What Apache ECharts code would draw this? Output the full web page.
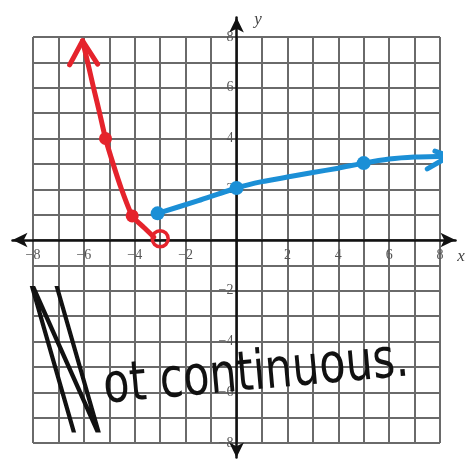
<!DOCTYPE html>
<html>
<head>
<meta charset="utf-8">
<script src="https://cdn.jsdelivr.net/npm/echarts@6/dist/echarts.min.js"></script>
<style>
html,body{margin:0;padding:0;background:#fff;}
#chart{width:469px;height:467px;}
</style>
</head>
<body>
<div id="chart"></div>
<script>
// ---- data ----
const xTickLabels = [-8, -6, -4, -2, 2, 4, 6, 8];
const yTickLabels = [-8, -6, -4, -2, 2, 4, 6, 8];

const redCurve = [[-6.05, 7.85], [-5.85, 7.0], [-5.62, 6.0], [-5.38, 5.0], [-5.15, 4.0], [-4.85, 3.0], [-4.52, 2.0], [-4.1, 0.95], [-3.65, 0.5], [-3.25, 0.12]];
const redArrow = [[-6.56, 6.9], [-6.05, 7.85], [-5.46, 6.93]];
const redDots = [[-5.15, 4.0], [-4.1, 0.95]];
const redOpen = [[-3.0, 0.05]];

const blueCurve = [[-3.1, 1.05], [-1.5, 1.55], [0, 2.05], [1, 2.3], [2, 2.48], [3, 2.66], [4, 2.83], [5, 3.03], [6, 3.19], [7, 3.27], [8.37, 3.31]];
const blueArrow = [[7.8, 3.5], [8.37, 3.31], [7.5, 2.8]];
const blueDots = [[-3.1, 1.05], [0, 2.05], [5, 3.03]];

const RED = '#e5232c';
const BLUE = '#1b8fd6';

const chart = echarts.init(document.getElementById('chart'));
const xFmt = v => (xTickLabels.indexOf(v) < 0) ? '' : String(v).replace('-', '\u2212');
const yFmt = v => (yTickLabels.indexOf(v) < 0) ? '' : String(v).replace('-', '\u2212');
const labelFont = { color: '#555', fontFamily: 'Liberation Serif', fontSize: 14 };

function lineSeries(data, color, width, smooth) {
  return {
    type: 'line', xAxisIndex: 0, yAxisIndex: 0, data: data,
    showSymbol: false, symbol: 'none', clip: false, smooth: smooth, z: 5,
    lineStyle: { color: color, width: width, cap: 'round', join: 'round' },
    silent: true, animation: false
  };
}
const hiddenAxis = (g) => ({ gridIndex: g, type: 'value', min: -8, max: 8, show: false });

chart.setOption({
  animation: false,
  grid: [
    { left: 33, right: 29, top: 37, bottom: 24, outerBoundsMode: 'none', containLabel: false },
    { left: 12.5, right: 13.5, top: 17.5, bottom: 9.5, outerBoundsMode: 'none', containLabel: false },
    { left: 33, right: 29, top: 100, bottom: 227, outerBoundsMode: 'none', containLabel: false },
    { left: 236.5, right: 100, top: 37, bottom: 24, outerBoundsMode: 'none', containLabel: false }
  ],
  xAxis: [
    { gridIndex: 0, type: 'value', min: -8, max: 8, interval: 1,
      axisLine: { show: false }, axisTick: { show: false }, axisLabel: { show: false },
      splitLine: { show: true, lineStyle: { color: '#6a6a6a', width: 2 } } },
    { gridIndex: 1, type: 'value', min: -8.8, max: 8.6,
      splitLine: { show: false }, axisTick: { show: false }, axisLabel: { show: false },
      axisLine: { show: true, onZero: true, symbol: ['arrow', 'arrow'], symbolSize: [11, 15],
        lineStyle: { color: '#111', width: 2.5 } } },
    { gridIndex: 2, type: 'value', min: -8, max: 8, interval: 2, position: 'bottom',
      axisLine: { show: false, onZero: false }, axisTick: { show: false }, splitLine: { show: false },
      axisLabel: Object.assign({ show: true, formatter: xFmt, margin: 8, showMinLabel: true, showMaxLabel: true }, labelFont) },
    hiddenAxis(3)
  ],
  yAxis: [
    { gridIndex: 0, type: 'value', min: -8, max: 8, interval: 1,
      axisLine: { show: false }, axisTick: { show: false }, axisLabel: { show: false },
      splitLine: { show: true, lineStyle: { color: '#6a6a6a', width: 2 } } },
    { gridIndex: 1, type: 'value', min: -8.57, max: 8.77,
      splitLine: { show: false }, axisTick: { show: false }, axisLabel: { show: false },
      axisLine: { show: true, onZero: true, symbol: ['arrow', 'arrow'], symbolSize: [11, 15],
        lineStyle: { color: '#111', width: 2.5 } } },
    hiddenAxis(2),
    { gridIndex: 3, type: 'value', min: -8, max: 8, interval: 2, position: 'left',
      axisLine: { show: false, onZero: false }, axisTick: { show: false }, splitLine: { show: false },
      axisLabel: Object.assign({ show: true, formatter: yFmt, margin: 3, showMinLabel: true, showMaxLabel: true }, labelFont) }
  ],
  series: [
    lineSeries(redCurve, RED, 5, 0.2),
    lineSeries(redArrow, RED, 5, false),
    lineSeries(blueCurve, BLUE, 5, 0.2),
    lineSeries(blueArrow, BLUE, 5, false),
    { type: 'scatter', xAxisIndex: 0, yAxisIndex: 0, data: redDots, symbolSize: 13, clip: false, z: 6,
      itemStyle: { color: RED, opacity: 1 } },
    { type: 'scatter', xAxisIndex: 0, yAxisIndex: 0, data: redOpen, symbolSize: 16, clip: false, z: 6,
      itemStyle: { color: 'rgba(0,0,0,0)', borderColor: RED, borderWidth: 3.5, opacity: 1 } },
    { type: 'scatter', xAxisIndex: 0, yAxisIndex: 0, data: blueDots, symbolSize: 14, clip: false, z: 6,
      itemStyle: { color: BLUE, opacity: 1 } }
  ],
  graphic: [
    { type: 'text', x: 258, y: 20, z: 10,
      style: { text: 'y', font: 'italic 17px "Liberation Serif"', fill: '#444', align: 'center', verticalAlign: 'middle' } },
    { type: 'text', x: 461, y: 257, z: 10,
      style: { text: 'x', font: 'italic 17px "Liberation Serif"', fill: '#444', align: 'center', verticalAlign: 'middle' } },
    { type: 'text', x: 72, y: 380, z: 20, scaleX: 0.3, skewX: 0.28,
      style: { text: 'N', font: '200 194px "DejaVu Sans"', fill: '#111', stroke: '#111', lineWidth: 5,
        align: 'center', verticalAlign: 'middle' } },
    { type: 'text', x: 106, y: 416, z: 20, scaleX: 0.78, rotation: 0.09,
      style: { text: 'ot continuous.', font: '55px "DejaVu Sans"', fill: '#111',
        align: 'left', verticalAlign: 'bottom' } }
  ]
});
</script>
</body>
</html>
